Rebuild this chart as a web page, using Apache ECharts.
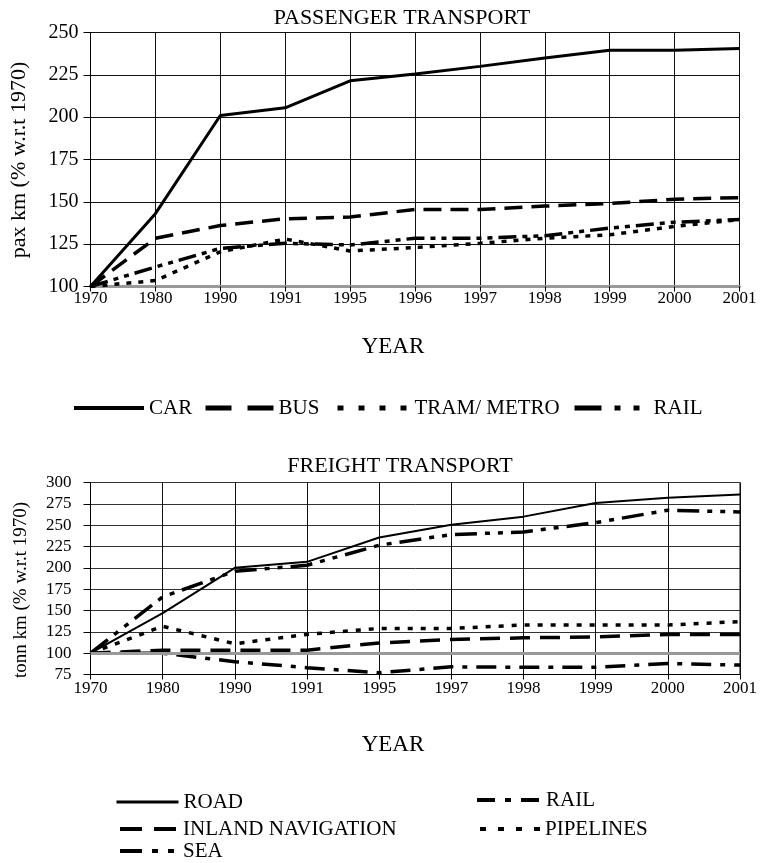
<!DOCTYPE html>
<html>
<head>
<meta charset="utf-8">
<script src="https://cdn.jsdelivr.net/npm/echarts@6/dist/echarts.min.js"></script>
<style>
  html, body { margin: 0; padding: 0; background: #fff; }
  #chart { width: 765px; height: 863px; }
</style>
</head>
<body>
<div id="chart"></div>
<script>
// Passenger transport, index 1970 = 100
const passengerYears = ['1970','1980','1990','1991','1995','1996','1997','1998','1999','2000','2001'];
const car       = [100, 143, 201, 205.5, 221.5, 225.5, 230, 235, 239.5, 239.5, 240.5];
const bus       = [100, 128.5, 136, 140, 141, 145.5, 145.5, 147.5, 149, 151.5, 152.5];
const tramMetro = [100, 103.5, 120.5, 128, 121, 123, 125.5, 128.5, 130.5, 135.5, 139.5];
const railPax   = [100, 111.5, 122.5, 125.5, 124.5, 128.5, 128.5, 130, 134.5, 138, 139.5];
const passengerTicks = { min: 100, max: 250, step: 25 };

// Freight transport, index 1970 = 100
const freightYears = ['1970','1980','1990','1991','1995','1997','1998','1999','2000','2001'];
const road        = [100, 147, 200, 207, 235.5, 250.5, 260, 276, 282, 286];
const inlandNav   = [100, 103.5, 103.5, 103.5, 112, 116, 118, 119, 122, 122];
const sea         = [100, 166, 196, 203, 226.5, 239, 242, 253, 267.5, 265.5];
const railFreight = [100, 100, 90, 83, 77, 84, 83.5, 83.5, 88, 86];
const pipelines   = [100, 131.5, 111, 122, 129, 129, 133, 133, 133, 137];
const freightTicks = { min: 75, max: 300, step: 25 };

const FONT = '"Liberation Serif", "DejaVu Serif", serif';

const chart = echarts.init(document.getElementById('chart'), null, { renderer: 'canvas' });

function xAxisCfg(gridIndex, data, labelMargin, lineStyle) {
  return {
    type: 'category', gridIndex, data, boundaryGap: false,
    axisLine: { show: true, lineStyle },
    axisTick: { show: true, length: 5, lineStyle: { color: '#000', width: 1 } },
    axisLabel: { color: '#000', fontFamily: FONT, fontSize: 17, margin: labelMargin },
    splitLine: { show: true, lineStyle: { color: '#111', width: 1 } }
  };
}
function yAxisCfg(gridIndex, ticks, fontSize, labelMargin, gridColor) {
  return {
    type: 'value', gridIndex, min: ticks.min, max: ticks.max, interval: ticks.step,
    axisLine: { show: true, lineStyle: { color: '#000', width: 1 } },
    axisTick: { show: true, length: 7, lineStyle: { color: '#000', width: 1 } },
    axisLabel: { color: '#000', fontFamily: FONT, fontSize, margin: labelMargin },
    splitLine: { show: true, lineStyle: { color: gridColor, width: 1 } }
  };
}
function lineSeries(name, data, axisIndex, width, type) {
  return {
    type: 'line', name, data, xAxisIndex: axisIndex, yAxisIndex: axisIndex,
    symbol: 'none', smooth: false,
    lineStyle: { color: '#000', width, type, cap: 'butt' },
    itemStyle: { color: '#000' },
    emphasis: { disabled: true }
  };
}
// one legend entry per component so each can sit at its own spot;
// the key sample gets its own, longer dash rhythm
function legendItem(name, left, top, itemWidth, width, type) {
  return {
    data: [name], left, top, itemWidth, itemHeight: 14, orient: 'horizontal',
    selectedMode: false, padding: 0,
    formatter: n => n.trim(),
    itemStyle: { color: 'rgba(0,0,0,0)', borderColor: 'rgba(0,0,0,0)', borderWidth: 0, opacity: 0 },
    lineStyle: { color: '#000', width, type, cap: 'butt' },
    textStyle: { color: '#000', fontFamily: FONT, fontSize: 21, lineHeight: 22 }
  };
}
function text(str, x, y, size, rotate) {
  return {
    type: 'text', x, y, rotation: rotate ? Math.PI / 2 : 0,
    style: { text: str, fill: '#000', font: size + 'px ' + FONT, textAlign: 'center', textVerticalAlign: 'middle' }
  };
}

const option = {
  animation: false,
  backgroundColor: '#fff',
  title: [
    { text: 'PASSENGER TRANSPORT', left: 397, top: 2, textAlign: 'center',
      textStyle: { fontFamily: FONT, fontSize: 22, fontWeight: 'normal', color: '#000' } },
    { text: 'FREIGHT TRANSPORT', left: 395, top: 450, textAlign: 'center',
      textStyle: { fontFamily: FONT, fontSize: 22, fontWeight: 'normal', color: '#000' } }
  ],
  grid: [
    { left: 90.5, top: 32.5, width: 649, height: 254, show: true, borderColor: '#000', borderWidth: 1, containLabel: false },
    { left: 90.5, top: 482.5, width: 649.5, height: 192, show: true, borderColor: '#000', borderWidth: 1, containLabel: false }
  ],
  xAxis: [
    xAxisCfg(0, passengerYears, 4, { color: '#999', width: 3 }),
    xAxisCfg(1, freightYears, 6, { color: '#000', width: 1 })
  ],
  yAxis: [
    yAxisCfg(0, passengerTicks, 20, 12, '#111'),
    yAxisCfg(1, freightTicks, 17, 19, '#333')
  ],
  legend: [
    legendItem('CAR', 72, 397, 70, 4, 'solid'),
    legendItem('BUS', 203, 397, 68, 5, [26, 16]),
    legendItem('TRAM/ METRO', 335, 397, 72, 5, [6, 15]),
    legendItem('RAIL', 572, 397, 74, 5, [27, 13, 6, 13, 6, 20]),
    legendItem('ROAD', 115, 791, 62, 3, 'solid'),
    legendItem('INLAND NAVIGATION', 118, 818, 58, 4, [22, 12]),
    legendItem('SEA', 118, 840, 58, 4, [22, 10, 6, 10, 6, 10]),
    legendItem('RAIL ', 475, 789, 64, 4, [18, 10, 6, 10]),
    legendItem('PIPELINES', 478, 818, 60, 4, [6, 12])
  ],
  series: [
    lineSeries('CAR', car, 0, 3, 'solid'),
    lineSeries('BUS', bus, 0, 3.5, [18, 9]),
    lineSeries('TRAM/ METRO', tramMetro, 0, 3.5, [5, 7]),
    lineSeries('RAIL', railPax, 0, 3.5, [18, 6, 5, 6, 5, 6]),
    Object.assign(lineSeries('ROAD', road, 1, 2, 'solid'), {
      markLine: {
        silent: true, symbol: 'none', animation: false,
        label: { show: false },
        lineStyle: { color: '#999', width: 3, type: 'solid' },
        data: [{ yAxis: 100 }]
      }
    }),
    lineSeries('INLAND NAVIGATION', inlandNav, 1, 3.5, [20, 10]),
    lineSeries('SEA', sea, 1, 3.5, [22, 8, 5, 8, 5, 8]),
    lineSeries('RAIL ', railFreight, 1, 3.5, [20, 9, 5, 9]),
    lineSeries('PIPELINES', pipelines, 1, 3.5, [5, 8])
  ],
  graphic: [
    text('pax km (% w.r.t 1970)', 19, 160, 22, true),
    text('YEAR', 393, 347, 23, false),
    text('tonn km (% w.r.t 1970)', 21, 590, 19, true),
    text('YEAR', 393, 745, 23, false)
  ]
};

chart.setOption(option);
</script>
</body>
</html>
